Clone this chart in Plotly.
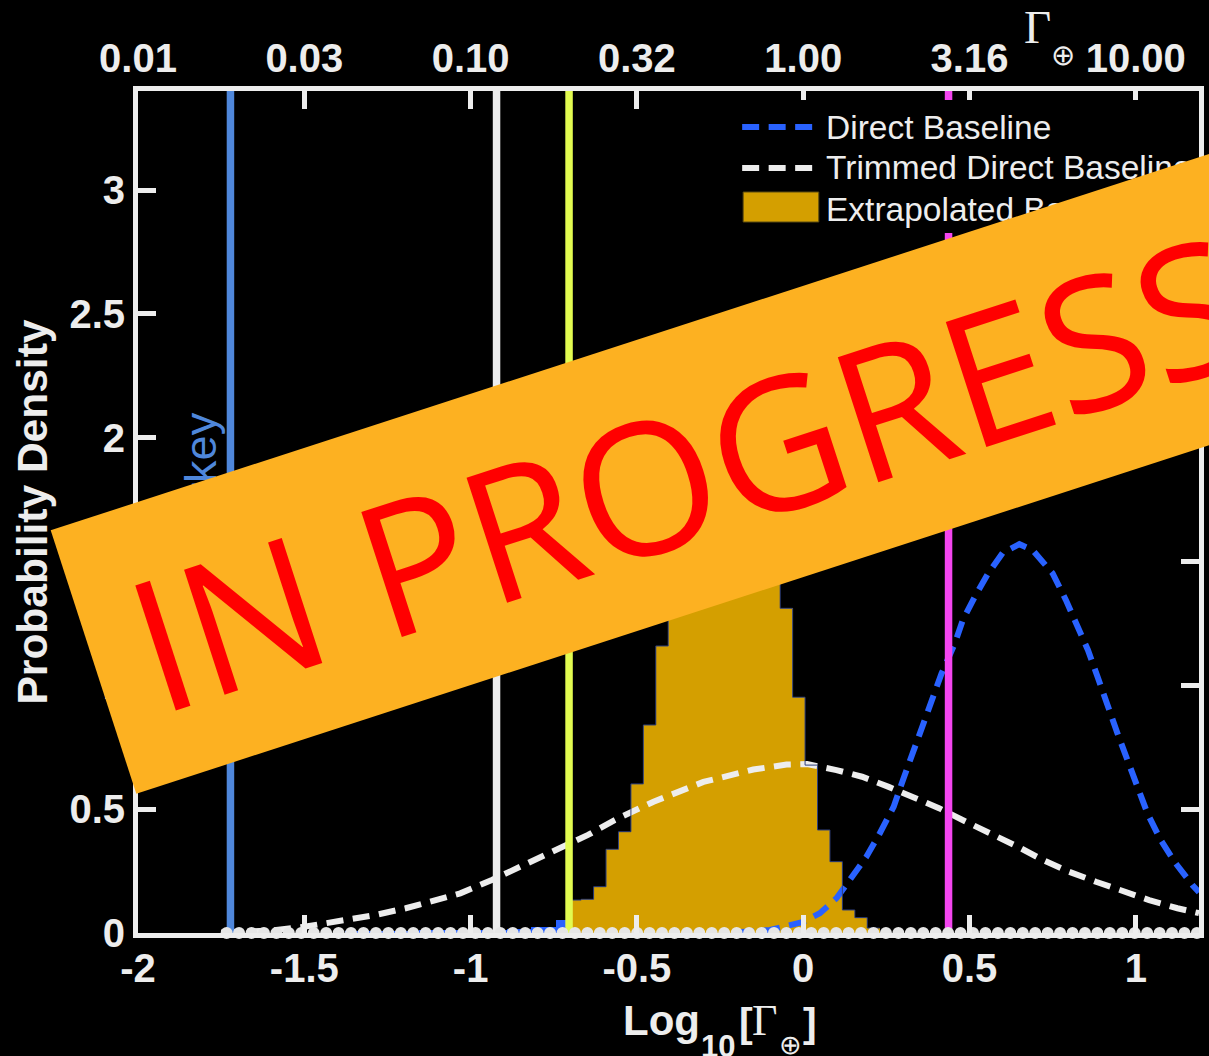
import numpy as np
import plotly.graph_objects as go

# ------------------------------------------------------------------ data
BIN_WIDTH = 0.0374
EXTRAP_FIRST_EDGE = -0.705

# Extrapolated baseline histogram (probability density per bin)
extrapolated_density = [0.133, 0.136, 0.187, 0.338, 0.409, 0.602, 0.840, 1.159,
                        1.50, 1.80, 2.10, 2.30, 2.40, 2.40, 2.30, 2.10, 1.80,
                        1.311, 0.952, 0.678, 0.416, 0.288, 0.093, 0.062, 0.020]

# Direct baseline histogram, bins ending where the extrapolated one starts
direct_hist_density = [0.008, 0.008, 0.009, 0.009, 0.010, 0.010, 0.011, 0.011, 0.012,
                       0.012, 0.013, 0.013, 0.014, 0.015, 0.016, 0.023, 0.023, 0.052]

# Direct baseline fit (blue dashed)
direct_x = [-0.20, -0.10, 0.00, 0.05, 0.10, 0.132, 0.19, 0.23, 0.272, 0.30, 0.33, 0.36,
            0.39, 0.416, 0.456, 0.48, 0.516, 0.556, 0.60, 0.65, 0.69, 0.75, 0.79, 0.82,
            0.856, 0.885, 0.915, 0.945, 0.975, 1.005, 1.035, 1.075, 1.12, 1.17, 1.19]
direct_y = [0.003, 0.012, 0.045, 0.080, 0.140, 0.200, 0.308, 0.402, 0.510, 0.618, 0.725, 0.833,
            0.940, 1.048, 1.170, 1.264, 1.358, 1.452, 1.535, 1.570, 1.546, 1.452, 1.344, 1.250,
            1.143, 1.035, 0.914, 0.806, 0.698, 0.591, 0.483, 0.375, 0.281, 0.194, 0.165]

# Trimmed direct baseline fit (white dashed)
trimmed_x = [-1.75, -1.60, -1.50, -1.376, -1.285, -1.195, -1.116, -1.031, -0.936, -0.806,
             -0.726, -0.647, -0.567, -0.45, -0.30, -0.15, -0.05, 0.012, 0.10, 0.177, 0.257,
             0.33, 0.41, 0.49, 0.566, 0.646, 0.72, 0.80, 0.88, 0.96, 1.04, 1.125, 1.19]
trimmed_y = [0.002, 0.010, 0.025, 0.050, 0.073, 0.100, 0.126, 0.160, 0.214, 0.295,
             0.342, 0.396, 0.456, 0.530, 0.610, 0.660, 0.680, 0.682, 0.658, 0.631, 0.590,
             0.550, 0.503, 0.449, 0.402, 0.348, 0.295, 0.247, 0.207, 0.167, 0.133, 0.100, 0.080]

# Reference values (log10 of Gamma)
ref_values = [-1.722, -0.922, -0.704, 0.437]
ref_colors = ["#4F87DB", "#EDEDED", "#E2FB50", "#F445F0"]
ref_label = "Turkey"

# Empty bins of the extrapolated histogram (density zero)
EMPTY_FIRST_INDEX, EMPTY_LAST_INDEX = -28, 50

x_ticks = [-2, -1.5, -1, -0.5, 0, 0.5, 1]
x_tick_text = ["-2", "-1.5", "-1", "-0.5", "0", "0.5", "1"]
top_tick_text = ["0.01", "0.03", "0.10", "0.32", "1.00", "3.16", "10.00"]
y_ticks = [0, 0.5, 1, 1.5, 2, 2.5, 3]
y_tick_text = ["0", "0.5", "1", "1.5", "2", "2.5", "3"]

legend_labels = ["Direct Baseline", "Trimmed Direct Baseline", "Extrapolated Baseline"]

X_RANGE = [-2, 1.19]
Y_RANGE = [0, 3.4]

# ------------------------------------------------------------------ style
W, H = 1209, 1056
PX_L, PX_R, PX_T, PX_B = 138, 1204, 91, 933
AX = "#EDEDED"
SANS = "Liberation Sans, Arial, sans-serif"
SERIF = "Liberation Serif, Times New Roman, serif"
GOLD = "#D49F00"
BLUE = "#2962FF"
DASH = "17px,9.5px"


def px(xp):
    return (xp - PX_L) / (PX_R - PX_L)


def py(yp):
    return (PX_B - yp) / (PX_B - PX_T)


n_extrap = len(extrapolated_density)
extrap_edges = [EXTRAP_FIRST_EDGE + i * BIN_WIDTH for i in range(n_extrap + 1)]
extrap_centers = [(a + b) / 2 for a, b in zip(extrap_edges[:-1], extrap_edges[1:])]
n_direct = len(direct_hist_density)
direct_centers = [EXTRAP_FIRST_EDGE - (n_direct - i - 0.5) * BIN_WIDTH for i in range(n_direct)]
empty_centers = [EXTRAP_FIRST_EDGE + (k + 0.5) * BIN_WIDTH
                 for k in range(EMPTY_FIRST_INDEX, EMPTY_LAST_INDEX + 1)]
empty_density = np.zeros(len(empty_centers))

fig = go.Figure()

fig.add_trace(go.Scatter(x=trimmed_x, y=trimmed_y, mode="lines",
                         line=dict(color=AX, width=6, dash=DASH),
                         hoverinfo="skip", showlegend=False))
fig.add_trace(go.Bar(x=direct_centers, y=direct_hist_density, width=BIN_WIDTH,
                     marker=dict(color=BLUE, line=dict(width=0)),
                     hoverinfo="skip", showlegend=False))
fig.add_trace(go.Scatter(x=direct_x, y=direct_y, mode="lines",
                         line=dict(color=BLUE, width=6, dash=DASH),
                         hoverinfo="skip", showlegend=False))
fig.add_trace(go.Bar(x=extrap_centers, y=extrapolated_density, width=BIN_WIDTH,
                     marker=dict(color=GOLD, line=dict(width=0)),
                     hoverinfo="skip", showlegend=False))
# thin step outline of the extrapolated histogram
fig.add_trace(go.Scatter(x=extrap_edges, y=extrapolated_density + [extrapolated_density[-1]],
                         mode="lines", line=dict(color="#2e3f7c", width=1, shape="hv"),
                         hoverinfo="skip", showlegend=False))

for v, c in zip(ref_values, ref_colors):
    fig.add_trace(go.Scatter(x=[v, v], y=Y_RANGE, mode="lines",
                             line=dict(color=c, width=7.5),
                             hoverinfo="skip", showlegend=False))

fig.add_trace(go.Scatter(x=empty_centers, y=empty_density, mode="markers",
                         marker=dict(size=12, color="#E6E6E6"), cliponaxis=False,
                         hoverinfo="skip", showlegend=False))

# anchor trace for the top (linear Gamma) axis
fig.add_trace(go.Scatter(x=[X_RANGE[0]], y=[Y_RANGE[0]], xaxis="x2", mode="markers",
                         marker=dict(size=1, color="rgba(0,0,0,0)"),
                         hoverinfo="skip", showlegend=False))

tickfont = dict(family=SANS, size=40, color=AX, weight="bold")

fig.update_layout(
    width=W, height=H,
    margin=dict(l=PX_L, r=W - PX_R, t=PX_T, b=H - PX_B, pad=0),
    paper_bgcolor="black", plot_bgcolor="black",
    barmode="overlay", bargap=0,
    showlegend=False,
    xaxis=dict(range=X_RANGE, tickvals=x_ticks, ticktext=x_tick_text,
               ticks="inside", ticklen=18, tickwidth=5, tickcolor=AX,
               showline=True, linewidth=5, linecolor=AX, mirror="ticks",
               showgrid=False, zeroline=False, tickfont=tickfont,
               ticklabelstandoff=-4),
    xaxis2=dict(range=X_RANGE, overlaying="x", side="top", anchor="y",
                tickvals=x_ticks, ticktext=top_tick_text, ticks="",
                showline=False, showgrid=False, zeroline=False, tickfont=tickfont,
                ticklabelstandoff=10),
    yaxis=dict(range=Y_RANGE, tickvals=y_ticks, ticktext=y_tick_text,
               ticks="inside", ticklen=18, tickwidth=5, tickcolor=AX,
               showline=True, linewidth=5, linecolor=AX, mirror="ticks",
               showgrid=False, zeroline=False, tickfont=tickfont,
               ticklabelstandoff=0),
)

# ---- legend (drawn by hand so the banner can sit over it)
shapes = [
    dict(type="rect", xref="paper", yref="paper", layer="above",
         x0=px(736), x1=px(1198), y0=py(233), y1=py(100),
         fillcolor="black", line=dict(width=0)),
    dict(type="line", xref="paper", yref="paper", layer="above",
         x0=px(745), x1=px(820), y0=py(127), y1=py(127),
         line=dict(color=BLUE, width=6, dash=DASH)),
    dict(type="line", xref="paper", yref="paper", layer="above",
         x0=px(745), x1=px(820), y0=py(168), y1=py(168),
         line=dict(color=AX, width=6, dash=DASH)),
    dict(type="rect", xref="paper", yref="paper", layer="above",
         x0=px(746), x1=px(822), y0=py(222), y1=py(192),
         fillcolor=GOLD, line=dict(color="#5a4a10", width=1)),
]
fig.update_layout(shapes=shapes)

annotations = []
for label, yc in zip(legend_labels, [127, 168, 209]):
    annotations.append(dict(text=label, xref="paper", yref="paper",
                            x=px(827), y=py(yc), xanchor="left", yanchor="middle",
                            showarrow=False, font=dict(family=SANS, size=33.5, color=AX)))

# y axis title
annotations.append(dict(text="<b>Probability Density</b>", xref="paper", yref="paper",
                        x=px(32), y=py(512), xanchor="center", yanchor="middle",
                        textangle=-90, showarrow=False,
                        font=dict(family=SANS, size=42.5, color=AX)))


def label_part(text, x_left, y_mid, family, size, bold=False):
    return dict(text=f"<b>{text}</b>" if bold else text, xref="paper", yref="paper",
                x=px(x_left), y=py(y_mid), xanchor="left", yanchor="middle",
                showarrow=False, borderpad=0,
                font=dict(family=family, size=size, color=AX))


# x axis title: Log10[Γ⊕]
annotations += [
    label_part("Log", 624, 1021, SANS, 42, bold=True),
    label_part("10", 703, 1046, SANS, 31, bold=True),
    label_part("[", 741, 1023, SANS, 41, bold=True),
    label_part("Γ", 754, 1021, SERIF, 44),
    label_part("⊕", 781, 1045, SERIF, 27),
    label_part("]", 805, 1023, SANS, 41, bold=True),
]
# top axis title: Γ⊕
annotations += [
    label_part("Γ", 1027, 27, SERIF, 47),
    label_part("⊕", 1054, 55, SERIF, 29),
]

# reference label
annotations.append(dict(text=ref_label, xref="paper", yref="paper",
                        x=px(200), y=py(481), xanchor="center", yanchor="middle",
                        textangle=-90, showarrow=False,
                        font=dict(family=SANS, size=45, color=ref_colors[0])))

# status banner
annotations.append(dict(text="IN PROGRESS", xref="paper", yref="paper",
                        x=px(688.6), y=py(469.5), xanchor="center", yanchor="middle",
                        width=1247, height=277, textangle=-18, showarrow=False,
                        bgcolor="#FDB121", borderpad=0, borderwidth=0,
                        font=dict(family="Open Sans, sans-serif", size=184, color="#FF0000")))

fig.update_layout(annotations=annotations)

fig.write_html("out.html")
